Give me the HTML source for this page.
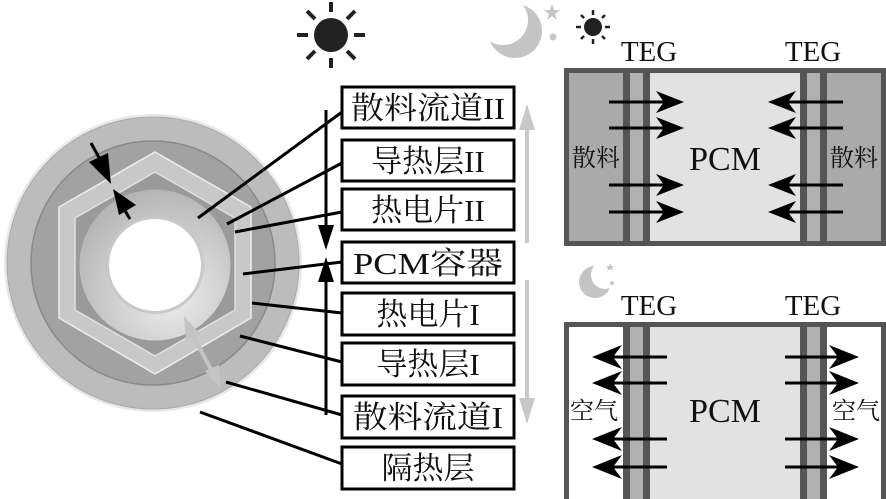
<!DOCTYPE html>
<html><head><meta charset="utf-8"><style>
html,body{margin:0;padding:0;background:#fff}
svg{display:block}
text{font-family:"Liberation Serif","Noto Serif CJK SC","Noto Sans CJK SC",serif;fill:#111}
</style></head><body>
<svg width="886" height="499" viewBox="0 0 886 499" xmlns="http://www.w3.org/2000/svg">
<defs>
<radialGradient id="ann" cx="0.6" cy="0.7" r="0.7"><stop offset="0" stop-color="#eeeeee"/><stop offset="1" stop-color="#b5b5b5"/></radialGradient>
<mask id="m1"><rect x="470" y="0" width="80" height="70" fill="#fff"/><circle cx="503" cy="20" r="25" fill="#000"/></mask>
<mask id="m2"><rect x="570" y="250" width="50" height="50" fill="#fff"/><circle cx="605" cy="275" r="14" fill="#000"/></mask>
</defs>
<circle cx="153" cy="263" r="149" fill="#e8e8e8"/>
<circle cx="153" cy="263" r="146" fill="#bcbcbc" stroke="#aaa" stroke-width="1"/>
<circle cx="153" cy="263" r="122" fill="#a2a2a2" stroke="#888" stroke-width="1.5"/>
<polygon points="155,152 251,207 251,318 155,374 59,318 59,207" fill="#c8c8c8" stroke="#eee" stroke-width="1.5"/>
<polygon points="155,172 235,218 235,310 155,356 75,310 75,218" fill="#9a9a9a" stroke="#e0e0e0" stroke-width="1.5"/>
<circle cx="155" cy="265" r="76" fill="url(#ann)" stroke="#999" stroke-width="1"/>
<circle cx="155" cy="265" r="49" fill="#c8c8c8"/>
<circle cx="155" cy="265" r="46" fill="#fff"/>
<g stroke="#000" stroke-width="3" fill="#000">
<line x1="91" y1="143" x2="102" y2="163"/>
<polygon points="111,184 89,162 108,153" stroke="none"/>
<line x1="130" y1="219" x2="121" y2="204"/>
<polygon points="113,189 136,205 119,215" stroke="none"/>
</g>
<g stroke="#c4c4c4" stroke-width="4" fill="#c4c4c4">
<line x1="190" y1="330" x2="214" y2="375"/>
<polygon points="184,316 200,334 186,340" stroke="none"/>
<polygon points="221,389 205,371 219,365" stroke="none"/>
</g>
<g stroke="#000" stroke-width="3">
<line x1="198" y1="218" x2="342" y2="112"/>
<line x1="227" y1="224" x2="342" y2="163"/>
<line x1="235" y1="232" x2="342" y2="212"/>
<line x1="243" y1="274" x2="342" y2="262"/>
<line x1="252" y1="303" x2="342" y2="313"/>
<line x1="240" y1="336" x2="342" y2="362"/>
<line x1="226" y1="382" x2="342" y2="415"/>
<line x1="200" y1="412" x2="342" y2="464"/>
</g>
<g stroke="#000" stroke-width="3" fill="#000">
<line x1="326" y1="110" x2="326" y2="232"/>
<polygon points="318,225 334,225 326,250" stroke="none"/>
<line x1="326" y1="275" x2="326" y2="415"/>
<polygon points="318,282 334,282 326,257" stroke="none"/>
</g>
<g stroke="#c8c8c8" stroke-width="4" fill="#c8c8c8">
<line x1="527" y1="118" x2="527" y2="243"/>
<polygon points="519,130 535,130 527,104" stroke="none"/>
<line x1="527" y1="280" x2="527" y2="410"/>
<polygon points="519,398 535,398 527,424" stroke="none"/>
</g>
<g fill="#fff" stroke="#000" stroke-width="3">
<rect x="342" y="87" width="172" height="41"/>
<rect x="342" y="140" width="172" height="41"/>
<rect x="342" y="189" width="172" height="41"/>
<rect x="342" y="242" width="172" height="41"/>
<rect x="342" y="293" width="172" height="42"/>
<rect x="342" y="343" width="172" height="42"/>
<rect x="342" y="396" width="172" height="42"/>
<rect x="342" y="447" width="172" height="42"/>
</g>
<g font-size="31" text-anchor="middle">
<text x="428" y="119" textLength="154" lengthAdjust="spacingAndGlyphs">散料流道II</text>
<text x="428" y="172">导热层II</text>
<text x="428" y="221">热电片II</text>
<text x="428" y="274" textLength="150" lengthAdjust="spacingAndGlyphs">PCM容器</text>
<text x="428" y="325">热电片I</text>
<text x="428" y="375">导热层I</text>
<text x="428" y="428" textLength="150" lengthAdjust="spacingAndGlyphs">散料流道I</text>
<text x="428" y="479">隔热层</text>
</g>
<g stroke="#222" stroke-width="4">
<line x1="331" y1="2" x2="331" y2="12"/><line x1="331" y1="58" x2="331" y2="68"/>
<line x1="297" y1="35" x2="308" y2="35"/><line x1="354" y1="35" x2="365" y2="35"/>
<line x1="307" y1="11" x2="315" y2="19"/><line x1="347" y1="51" x2="355" y2="59"/>
<line x1="355" y1="11" x2="347" y2="19"/><line x1="315" y1="51" x2="307" y2="59"/>
</g>
<circle cx="331" cy="35" r="17" fill="#222"/>
<circle cx="515" cy="31" r="27" fill="#c4c4c4" mask="url(#m1)"/>
<polygon points="552,4 554,10 560,10 555,14 557,20 552,16 547,20 549,14 544,10 550,10" fill="#c4c4c4"/>
<circle cx="553" cy="37" r="3.5" fill="#c8c8c8"/>
<g stroke="#222" stroke-width="2.5">
<line x1="593" y1="10" x2="593" y2="15"/><line x1="593" y1="39" x2="593" y2="44"/>
<line x1="576" y1="27" x2="581" y2="27"/><line x1="605" y1="27" x2="610" y2="27"/>
<line x1="581" y1="15" x2="584" y2="18"/><line x1="602" y1="36" x2="605" y2="39"/>
<line x1="605" y1="15" x2="602" y2="18"/><line x1="584" y1="36" x2="581" y2="39"/>
</g>
<circle cx="593" cy="27" r="9" fill="#222"/>
<circle cx="595" cy="282" r="16" fill="#c4c4c4" mask="url(#m2)"/>
<polygon points="610,263 611,266 614,266 612,268 613,271 610,269 607,271 608,268 606,266 609,266" fill="#c4c4c4"/>
<circle cx="612" cy="283" r="2" fill="#c8c8c8"/>
<g font-size="29" text-anchor="middle">
<text x="649" y="61">TEG</text><text x="813" y="61">TEG</text>
<text x="649" y="315">TEG</text><text x="813" y="315">TEG</text>
</g>
<rect x="564" y="68" width="322" height="178" fill="#555"/>
<rect x="569" y="73" width="54" height="168" fill="#aaa"/>
<rect x="827" y="73" width="54" height="168" fill="#aaa"/>
<rect x="650" y="73" width="150" height="168" fill="#e2e2e2"/>
<rect x="630" y="73" width="13" height="168" fill="#b0b0b0"/>
<rect x="807" y="73" width="13" height="168" fill="#b0b0b0"/>
<g font-size="34" text-anchor="middle"><text x="725" y="170">PCM</text></g>
<g font-size="24" text-anchor="middle"><text x="596" y="166">散料</text><text x="854" y="166">散料</text></g>
<rect x="564" y="322" width="322" height="177" fill="#555"/>
<rect x="569" y="327" width="54" height="172" fill="#fff"/>
<rect x="827" y="327" width="54" height="172" fill="#fff"/>
<rect x="650" y="327" width="150" height="172" fill="#e2e2e2"/>
<rect x="630" y="327" width="13" height="172" fill="#b0b0b0"/>
<rect x="807" y="327" width="13" height="172" fill="#b0b0b0"/>
<g font-size="34" text-anchor="middle"><text x="725" y="422">PCM</text></g>
<g font-size="24" text-anchor="middle"><text x="594" y="419">空气</text><text x="856" y="419">空气</text></g>
<g stroke="#000" stroke-width="3" fill="#000">
<line x1="609" y1="102" x2="670" y2="102"/><polygon points="684,102 656,91 664,102 656,113" stroke="none"/>
<line x1="609" y1="128" x2="670" y2="128"/><polygon points="684,128 656,117 664,128 656,139" stroke="none"/>
<line x1="609" y1="185" x2="670" y2="185"/><polygon points="684,185 656,174 664,185 656,196" stroke="none"/>
<line x1="609" y1="212" x2="670" y2="212"/><polygon points="684,212 656,201 664,212 656,223" stroke="none"/>
<line x1="782" y1="102" x2="843" y2="102"/><polygon points="768,102 796,91 788,102 796,113" stroke="none"/>
<line x1="782" y1="128" x2="843" y2="128"/><polygon points="768,128 796,117 788,128 796,139" stroke="none"/>
<line x1="782" y1="185" x2="843" y2="185"/><polygon points="768,185 796,174 788,185 796,196" stroke="none"/>
<line x1="782" y1="212" x2="843" y2="212"/><polygon points="768,212 796,201 788,212 796,223" stroke="none"/>
<line x1="605" y1="357" x2="667" y2="357"/><polygon points="592,357 622,345 613,357 622,369" stroke="none"/>
<line x1="605" y1="383" x2="667" y2="383"/><polygon points="592,383 622,371 613,383 622,395" stroke="none"/>
<line x1="605" y1="439" x2="667" y2="439"/><polygon points="592,439 622,427 613,439 622,451" stroke="none"/>
<line x1="605" y1="467" x2="667" y2="467"/><polygon points="592,467 622,455 613,467 622,479" stroke="none"/>
<line x1="785" y1="357" x2="846" y2="357"/><polygon points="859,357 829,345 838,357 829,369" stroke="none"/>
<line x1="785" y1="383" x2="846" y2="383"/><polygon points="859,383 829,371 838,383 829,395" stroke="none"/>
<line x1="785" y1="439" x2="846" y2="439"/><polygon points="859,439 829,427 838,439 829,451" stroke="none"/>
<line x1="785" y1="467" x2="846" y2="467"/><polygon points="859,467 829,455 838,467 829,479" stroke="none"/>
</g>
</svg>
</body></html>
